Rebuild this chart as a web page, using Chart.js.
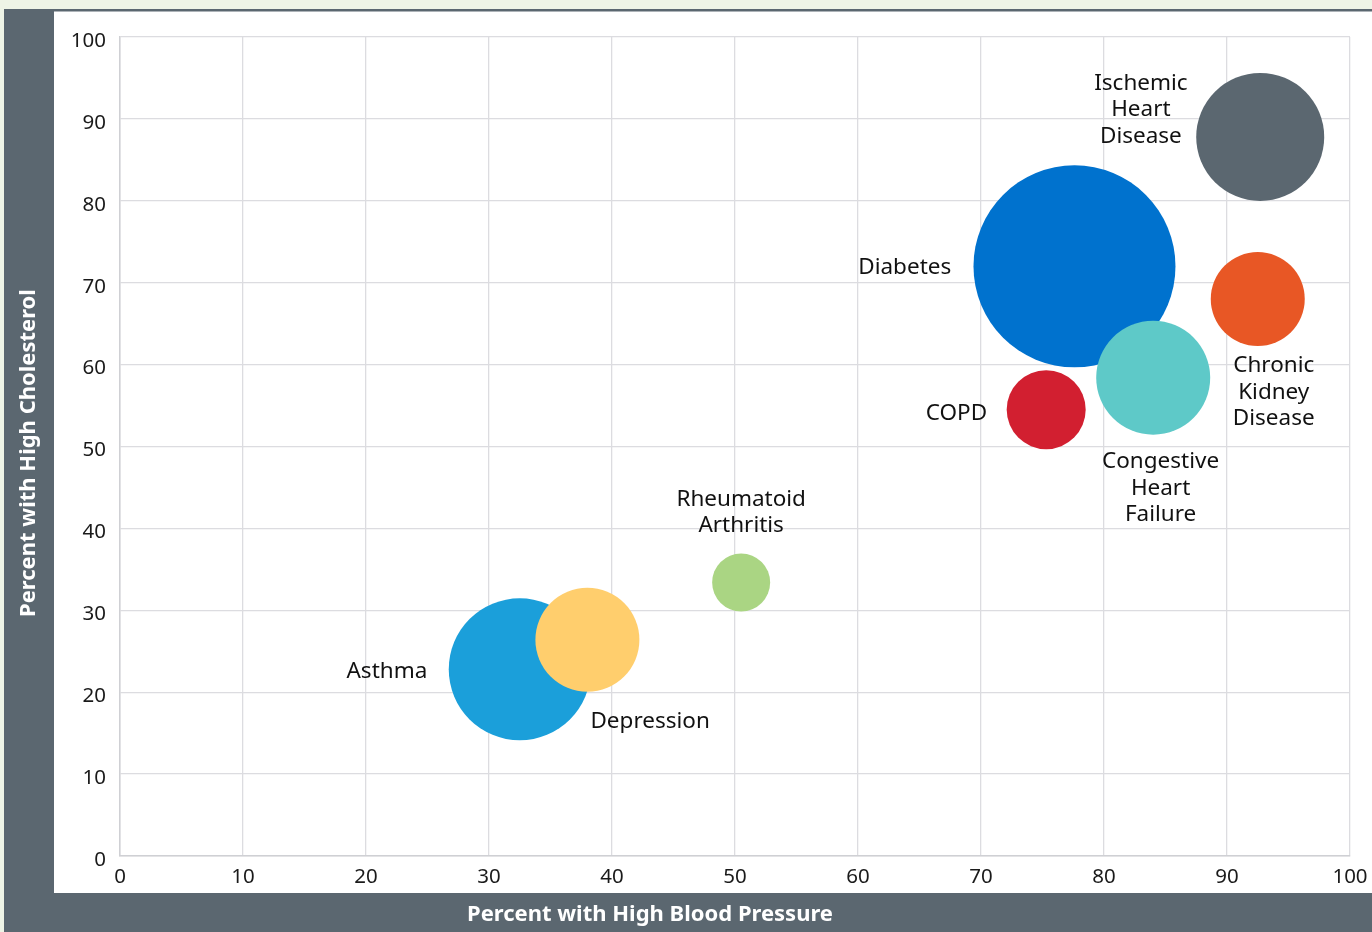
<!DOCTYPE html>
<html>
<head>
<meta charset="utf-8">
<title>High blood pressure vs high cholesterol</title>
<script src="https://cdn.jsdelivr.net/npm/chart.js@4.4.1/dist/chart.umd.min.js"></script>
<style>
  html, body { margin: 0; padding: 0; background: #eef4e6; }
  #wrap { position: relative; width: 1372px; height: 932px; }
</style>
</head>
<body>
<div id="wrap"><canvas id="chart" width="1372" height="932"></canvas></div>
<script>
// ── Datos ─────────────────────────────────────────────────────────────────
const DISEASES = [
  "Ischemic Heart Disease", "Diabetes", "Congestive Heart Failure",
  "Chronic Kidney Disease", "COPD", "Rheumatoid Arthritis",
  "Asthma", "Depression"
]
const HIGH_BP   = [92.7, 77.6, 84.0, 92.5, 75.3, 50.5, 32.5, 38.0]
const HIGH_CHOL = [87.8, 72.0, 58.4, 68.0, 54.5, 33.4, 22.8, 26.4]
const BUBBLE_R  = [64, 101, 57, 47, 39.5, 29, 71, 52]

const X_TITLE = "Percent with High Blood Pressure"
const Y_TITLE = "Percent with High Cholesterol"

// dónde va cada etiqueta (en unidades de los ejes)
const LABEL_X = [83.0, 63.8, 84.6, 93.8, 68.0, 50.5, 21.7, 43.1]
const LABEL_Y = [91.1, 71.8, 44.9, 56.6, 54.0, 41.9, 22.5, 16.4]

const COLORS = ["#5b6770", "#0072ce", "#5ec9c8", "#e85725", "#d21f30", "#aad583", "#1b9fda", "#ffce6d"]

const SLATE = "#5b6770"
const FONT  = "'Noto Sans', 'Open Sans', sans-serif"

// ── Marco, títulos y etiquetas ────────────────────────────────────────────
const framePlugin = {
  id: "frame",
  beforeDraw(chart) {
    const { ctx, width, height } = chart
    ctx.save()
    ctx.fillStyle = "#eef4e6"
    ctx.fillRect(0, 0, width, height)
    ctx.fillStyle = SLATE
    ctx.fillRect(4, 9, width - 4, height - 9)
    ctx.fillStyle = "#ffffff"
    ctx.fillRect(54, 11.5, width - 54, 881.5)
    ctx.restore()
  },
  afterDraw(chart) {
    const { ctx } = chart
    const xs = chart.scales.x, ys = chart.scales.y
    ctx.save()
    // títulos de ejes
    ctx.fillStyle = "#ffffff"
    ctx.font = "bold 22px " + FONT
    ctx.textAlign = "center"
    ctx.textBaseline = "middle"
    ctx.fillText(X_TITLE, 650, 915)
    ctx.translate(29, 453)
    ctx.rotate(-Math.PI / 2)
    ctx.fillText(Y_TITLE, 0, 0)
    ctx.setTransform(1, 0, 0, 1, 0, 0)

    // etiquetas de burbujas
    ctx.fillStyle = "#111111"
    ctx.font = "22.5px " + FONT
    DISEASES.forEach((name, i) => {
      const lines = name.split(" ")
      const cx = xs.getPixelForValue(LABEL_X[i])
      const cy = ys.getPixelForValue(LABEL_Y[i])
      const lh = 26.5
      lines.forEach((ln, k) => {
        ctx.fillText(ln, cx, cy + (k - (lines.length - 1) / 2) * lh)
      })
    })
    ctx.restore()
  }
}

new Chart(document.getElementById("chart"), {
  type: "bubble",
  data: {
    labels: DISEASES,
    datasets: [{
      data: DISEASES.map((d, i) => ({ x: HIGH_BP[i], y: HIGH_CHOL[i], r: BUBBLE_R[i] })),
      backgroundColor: COLORS,
      borderWidth: 0,
      hoverBorderWidth: 0,
      hoverRadius: 0
    }]
  },
  plugins: [framePlugin],
  options: {
    responsive: false,
    animation: false,
    events: [],
    clip: false,
    layout: { autoPadding: false, padding: { left: 0, top: 37, right: 22, bottom: 0 } },
    plugins: {
      legend: { display: false },
      tooltip: { enabled: false }
    },
    scales: {
      x: {
        type: "linear",
        min: 0, max: 100,
        afterFit: s => { s.height = 76; s.paddingLeft = 0; s.paddingRight = 0 },
        grid: { color: "#dcdce0", lineWidth: 1.3, drawTicks: false },
        border: { color: "#cfd0d4", width: 1.5 },
        ticks: {
          stepSize: 10,
          padding: 9,
          color: "#1a1a1a",
          font: { family: FONT, size: 20.5 }
        }
      },
      y: {
        type: "linear",
        min: 0, max: 100,
        afterFit: s => { s.width = 120; s.paddingTop = 0; s.paddingBottom = 0 },
        grid: { color: "#dcdce0", lineWidth: 1.3, drawTicks: false },
        border: { color: "#cfd0d4", width: 1.5 },
        ticks: {
          stepSize: 10,
          padding: 14,
          labelOffset: 4,
          color: "#1a1a1a",
          font: { family: FONT, size: 20.5 }
        }
      }
    }
  }
})
</script>
</body>
</html>
